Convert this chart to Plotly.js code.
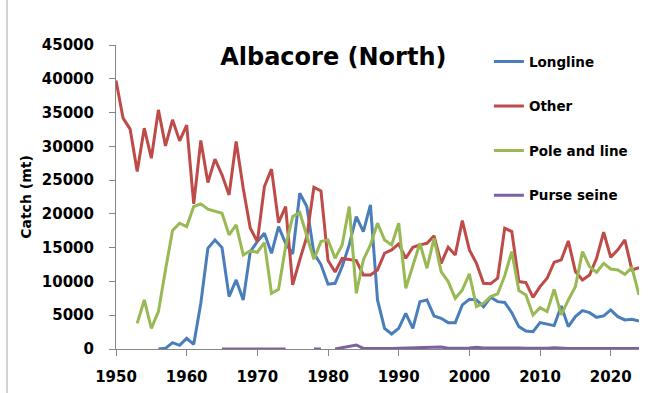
<!DOCTYPE html>
<html>
<head>
<meta charset="utf-8">
<script src="https://cdn.plot.ly/plotly-3.0.1.min.js"></script>
<style>html,body{margin:0;padding:0;background:#fff;} #chart{width:664px;height:393px;}</style>
</head>
<body>
<div id="chart"></div>
<script>
const years = [];
for (let y = 1950; y <= 2024; y++) years.push(y);

const seriesNames = ["Longline", "Other", "Pole and line", "Purse seine"];

const longline = [
  null, null, null, null, null, null,
  0, 100, 940, 540,
  1580, 690, 6770, 14910, 16150, 15010, 7750, 10220, 7260, 14420,
  15900, 17140, 14170, 18120, 15650, 14070, 23060, 21090, 14170, 12500,
  9600, 9730, 12200, 15410, 19600, 17380, 21330, 7260, 3060, 2220,
  3060, 5280, 3060, 7010, 7260, 4890, 4540, 3900, 3900, 6520,
  7360, 7260, 6270, 7650, 7010, 6900, 5380, 3310, 2670, 2570,
  3900, 3700, 3460, 6370, 3310, 4790, 5680, 5380, 4690, 4890,
  5780, 4790, 4300, 4400, 4150
];

const other = [
  39750, 34170, 32540, 26270, 32690, 28250, 35400, 30070, 33930, 30810,
  33140, 21480, 30860, 24640, 28100, 25780, 22810, 30720, 23800, 17880,
  15900, 24050, 26620, 18720, 21090, 9480, 13190, 16640, 23950, 23410,
  13100, 11400, 13400, 13200, 13100, 10960, 10960, 11700, 14170, 14670,
  15560, 13430, 15060, 15410, 15650, 16740, 12690, 15060, 13930, 19010,
  14670, 12690, 9730, 9650, 10470, 17880, 17380, 9980, 9830, 7650,
  9230, 10470, 12840, 13190, 16000, 11460, 10220, 10960, 13430, 17280,
  13580, 14670, 16150, 11700, 12050
];

const poleAndLine = [
  null, null, null,
  3800, 7260, 3060, 5530, 11700, 17530, 18620,
  18120, 21090, 21480, 20690, 20350, 20100, 16890, 18370, 13930, 14520,
  14320, 15750, 8250, 8840, 15160, 19600, 20200, 16640, 13280, 15900,
  16150, 13430, 15410, 21090, 8250, 13190, 15410, 18620, 16150, 15410,
  18620, 8990, 12440, 15650, 11950, 16390, 11460, 9980, 7500, 8740,
  11110, 6270, 6770, 7750, 8150, 10850, 14420, 8640, 8000, 5040,
  6120, 5530, 8840, 5040, 7260, 9230, 14420, 12200, 11360, 12690,
  11850, 11700, 11060, 12050, 8000
];

const purseSeine = [
  null, null, null, null, null, null, null, null, null, null,
  null, null, null, null, null,
  0, 0, 0, 0, 0, 0, 0, 0, 0, 0,
  null, null, null,
  0, 0,
  null,
  0, 200, 400, 600, 80, 60, 60, 100, 60,
  100, 150, 150, 200, 250, 300, 300, 100, 60, 100,
  150, 250, 150, 150, 250, 150, 150, 150, 100, 100,
  60, 100, 200, 100, 60, 60, 60, 60, 60, 60,
  60, 60, 60, 60, 60
];

const colors = ["#4A7EBB", "#BE4B48", "#98B954", "#7D60A0"];
const values = [longline, other, poleAndLine, purseSeine];

const FONT = "DejaVu Sans, sans-serif";

const traces = values.map((v, i) => ({
  x: years,
  y: v,
  name: seriesNames[i],
  type: "scatter",
  mode: "lines",
  line: { color: colors[i], width: 3 },
  connectgaps: false,
  cliponaxis: false,
  legendgroup: "g" + i
}));

const layout = {
  width: 664,
  height: 393,
  margin: { l: 116, r: 25, t: 45, b: 44 },
  paper_bgcolor: "#ffffff",
  plot_bgcolor: "#ffffff",
  showlegend: true,
  title: {
    text: "<b>Albacore (North)</b>",
    font: { family: FONT, size: 24, color: "#000000" },
    x: 0.502, xanchor: "center",
    y: 0.857, yanchor: "middle"
  },
  font: { family: FONT, color: "#000000" },
  xaxis: {
    range: [1950, 2024],
    tick0: 1950, dtick: 10,
    tickformat: "d",
    showgrid: false, zeroline: false,
    showline: true, linecolor: "#868686", linewidth: 1,
    ticks: "outside", ticklen: 6, tickcolor: "#868686",
    tickfont: { family: FONT, size: 15, color: "#000000", weight: "bold" },
    ticklabelstandoff: 8,
    layer: "below traces"
  },
  yaxis: {
    range: [0, 45000],
    dtick: 5000,
    tickformat: "d",
    showgrid: false, zeroline: false,
    showline: true, linecolor: "#868686", linewidth: 1,
    ticks: "outside", ticklen: 6, tickcolor: "#868686",
    tickfont: { family: FONT, size: 15, color: "#000000", weight: "bold" },
    ticklabelstandoff: 12,
    title: { text: "<b>Catch (mt)</b>", font: { family: FONT, size: 14, color: "#000000" }, standoff: 6 },
    layer: "below traces"
  },
  legend: {
    x: 0.713, xanchor: "left",
    y: 0.996, yanchor: "top",
    bgcolor: "rgba(0,0,0,0)",
    font: { family: FONT, size: 13.5, color: "#000000", weight: "bold" },
    tracegroupgap: 24,
    traceorder: "grouped"
  },
  shapes: [
    { type: "line", xref: "paper", yref: "paper",
      x0: -0.2084, x1: -0.2084, y0: -0.2, y1: 1.2,
      line: { color: "#a6a6a6", width: 1 } }
  ]
};

Plotly.newPlot("chart", traces, layout, { displayModeBar: false, staticPlot: true });
</script>
</body>
</html>
